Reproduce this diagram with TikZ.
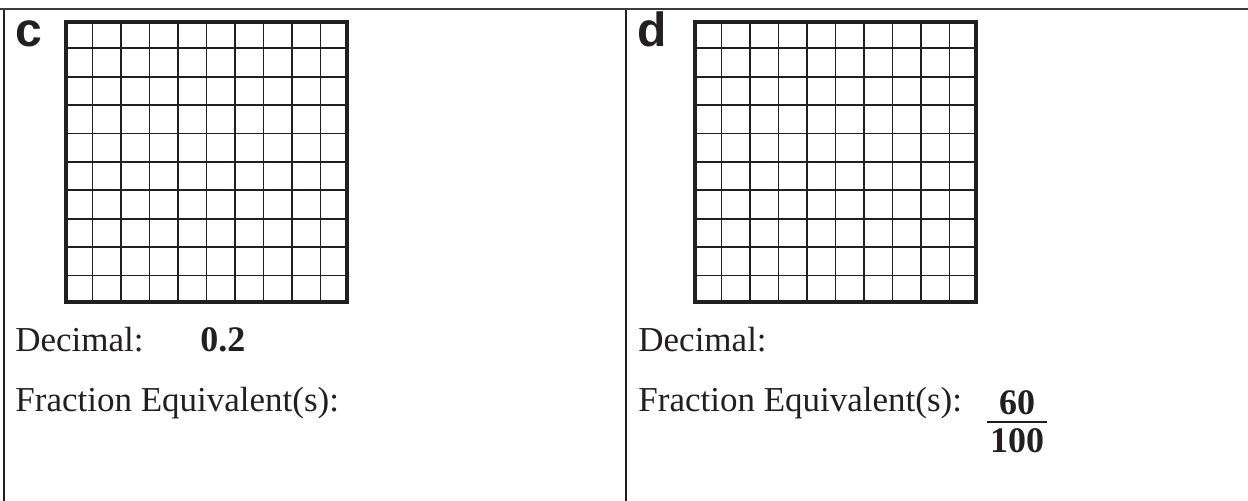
\documentclass[tikz,border=0pt]{standalone}
\usepackage{fontspec}
\setmainfont{Liberation Serif}
\newfontfamily\partfont{Liberation Sans}
\usetikzlibrary{calc}
\definecolor{ink}{HTML}{231F20}
\definecolor{rulegray}{HTML}{3C3C3C}

\begin{document}
\begin{tikzpicture}[x=0.5pt,y=-0.5pt,
  frame/.style={draw=ink,line width=0.6pt},
  toprule/.style={draw=rulegray,line width=1.1pt},
  gridbox/.style={draw=ink,line width=2pt,minimum width=140.5pt,
    minimum height=140pt,inner sep=0pt},
  gridline/.style={draw=ink,line width=0.9pt},
  txt/.style={inner sep=0pt,anchor=base west,text=ink,
    font=\fontsize{17.5}{21}\selectfont},
  answer/.style={txt,font=\fontsize{18}{22}\selectfont\bfseries},
  partlabel/.style={inner sep=0pt,anchor=base west,text=ink,
    font=\partfont\bfseries\fontsize{24}{27}\selectfont}]
\useasboundingbox (0,0) rectangle (1248,501);

% panel rules
\coordinate (topL) at (0,9);
\coordinate (topR) at (1248,9);
\coordinate (leftT) at (4,9);
\coordinate (leftB) at (4,501);
\coordinate (midT) at (626,9);
\coordinate (midB) at (626,501);
\draw[frame] (leftT) -- (leftB);
\draw[frame] (midT) -- (midB);
\draw[toprule] (topL) -- (topR);

% part c
\node[partlabel] (labc) at (15,47) {c};
\node[gridbox] (gridc) at (206.5,162) {};
\node[txt] (decc) at (15,352) {Decimal:};
\node[answer] (ansc) at (200,352) {0.2};
\node[txt] (fracc) at (15,412) {Fraction Equivalent(s):};

% part d
\node[partlabel] (labd) at (637,47) {d};
\node[gridbox] (gridd) at (835.5,162) {};
\node[txt] (decd) at (638,352) {Decimal:};
\node[txt] (fracd) at (638,412) {Fraction Equivalent(s):};
\node[answer,anchor=base] (num) at (1017,415) {60};
\node[answer,anchor=base] (den) at (1017,453) {100};
\coordinate (barL) at (987,422);
\coordinate (barR) at (1047,422);
\draw[ink,line width=1.1pt] (barL) -- (barR);

% hundred grids
\foreach \g in {gridc,gridd}{
  \foreach \i in {1,...,9}{
    \draw[gridline] ($(\g.north west)!\i/10!(\g.north east)$)
      -- ($(\g.south west)!\i/10!(\g.south east)$);
    \draw[gridline] ($(\g.north west)!\i/10!(\g.south west)$)
      -- ($(\g.north east)!\i/10!(\g.south east)$);
  }
  \node[gridbox] at (\g) {};
}
\end{tikzpicture}
\end{document}
